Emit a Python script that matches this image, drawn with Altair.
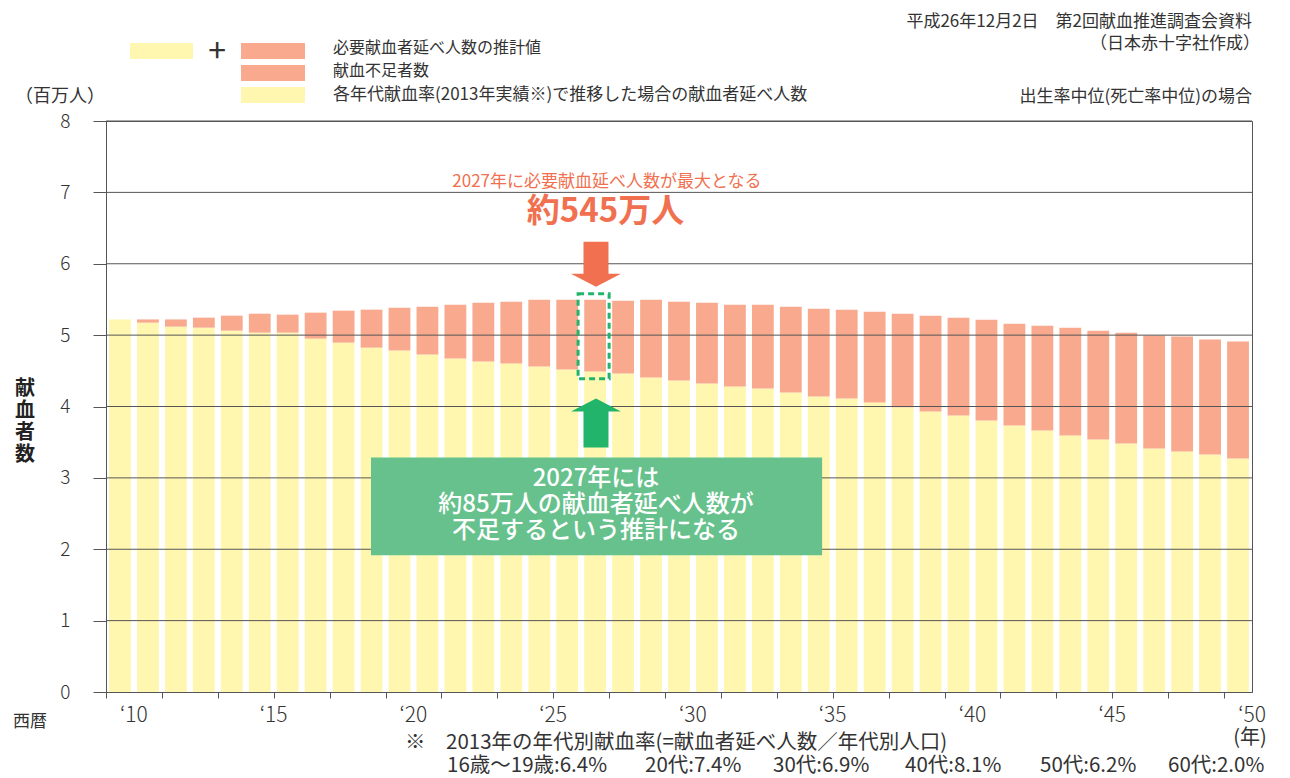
import altair as alt
import pandas as pd

FONT = "Noto Sans CJK JP"

years = list(range(2010, 2051))
total = [5.22, 5.22, 5.22, 5.245, 5.273, 5.30, 5.287, 5.315, 5.343, 5.357,
         5.385, 5.399, 5.427, 5.455, 5.469, 5.497, 5.497, 5.497, 5.483, 5.497,
         5.469, 5.455, 5.427, 5.427, 5.399, 5.371, 5.357, 5.329, 5.30, 5.273,
         5.245, 5.217, 5.161, 5.133, 5.105, 5.063, 5.035, 4.993, 4.979, 4.937,
         4.909]
base = [5.22, 5.175, 5.119, 5.105, 5.063, 5.035, 5.035, 4.951, 4.895, 4.825,
        4.783, 4.727, 4.671, 4.629, 4.601, 4.559, 4.517, 4.49, 4.462, 4.406,
        4.364, 4.322, 4.28, 4.252, 4.196, 4.14, 4.112, 4.056, 3.99, 3.93,
        3.874, 3.804, 3.734, 3.664, 3.594, 3.538, 3.482, 3.413, 3.371, 3.329,
        3.273]

seg_names = ["各年代献血率(2013年実績※)で推移した場合の献血者延べ人数", "献血不足者数"]
legend_labels = ["必要献血者延べ人数の推計値", "献血不足者数",
                 "各年代献血率(2013年実績※)で推移した場合の献血者延べ人数"]
rate_labels = ["16歳～19歳:6.4%", "20代:7.4%", "30代:6.9%", "40代:8.1%", "50代:6.2%", "60代:2.0%"]
x_label_years = [2010, 2015, 2020, 2025, 2030, 2035, 2040, 2045, 2050]
x_label_texts = ["‘10", "‘15", "‘20", "‘25", "‘30", "‘35", "‘40", "‘45", "‘50"]
y_ticks = list(range(0, 9))
x_ticks = list(range(2009, 2051))

YELLOW = "#FFF7B0"
PINK = "#F8A98E"
ORANGE = "#F07050"
GREEN = "#22B46A"
BOX = "#66C18C"
TXT = "#333333"
LINE = "#555555"

rows = []
for yr, t, b in zip(years, total, base):
    rows.append({"year": yr, "seg": seg_names[0], "lo": 0.0, "hi": b})
    rows.append({"year": yr, "seg": seg_names[1], "lo": b, "hi": t})
df = pd.DataFrame(rows)
df["x0"] = df["year"] - 1 + 0.11
df["x1"] = df["year"] - 0.11

xscale = alt.Scale(domain=[2009, 2050], nice=False, zero=False)
yscale = alt.Scale(domain=[0, 8], nice=False, zero=True)

bars = alt.Chart(df).mark_bar(strokeWidth=0).encode(
    x=alt.X("x0:Q", scale=xscale, axis=alt.Axis(
        values=x_ticks, title=None, grid=False, tickSize=6, tickColor=LINE,
        domainColor=LINE, labels=False)),
    x2="x1:Q",
    y=alt.Y("lo:Q", scale=yscale, axis=alt.Axis(
        values=y_ticks, format="d", title=None, grid=False, tickSize=13, tickColor=LINE,
        domainColor=LINE, labelFont=FONT, labelFontSize=19, labelColor=TXT,
        labelFontWeight=300, labelPadding=23)),
    y2="hi:Q",
    color=alt.Color("seg:N", scale=alt.Scale(domain=seg_names, range=[YELLOW, PINK]), legend=None),
)

x_labels = alt.Chart(pd.DataFrame({"yr": x_label_years, "lab": x_label_texts})).mark_text(
    font=FONT, fontSize=21, color=TXT, fontWeight=300, align="center", baseline="middle"
).encode(x=alt.X("yr:Q", scale=xscale), y=alt.value(595), text="lab:N")

grid = alt.Chart(pd.DataFrame({"v": y_ticks[1:]})).mark_rule(color=LINE, strokeWidth=1).encode(
    y=alt.Y("v:Q", scale=yscale)
)

one = pd.DataFrame({"a": [0]})

dashed = alt.Chart(one).mark_rect(fillOpacity=0, stroke=GREEN, strokeWidth=3, strokeDash=[6, 4]).encode(
    x=alt.datum(2025.89), x2=alt.datum(2027.0), y=alt.datum(5.58), y2=alt.datum(4.39)
)

down_path = "M-0.5,-0.9L0.5,-0.9L0.5,0.38L1,0.38L0,0.9L-1,0.38L-0.5,0.38Z"
up_path = "M0,-0.98L1,-0.46L0.5,-0.46L0.5,0.98L-0.5,0.98L-0.5,-0.46L-1,-0.46Z"

down_arrow = alt.Chart(one).mark_point(shape=down_path, size=2500, filled=True, fill=ORANGE,
                                       strokeWidth=0, opacity=1).encode(
    x=alt.datum(2026.53), y=alt.datum(5.993)
)
up_arrow = alt.Chart(one).mark_point(shape=up_path, size=2500, filled=True, fill=GREEN,
                                     strokeWidth=0, opacity=1).encode(
    x=alt.datum(2026.53), y=alt.datum(3.769)
)

box = alt.Chart(one).mark_rect(fill=BOX, strokeWidth=0).encode(
    x=alt.datum(2018.48), x2=alt.datum(2034.62), y=alt.datum(3.287), y2=alt.datum(1.916)
)
box_text = alt.Chart(one).mark_text(
    text=["2027年には", "約85万人の献血者延べ人数が", "不足するという推計になる"],
    font=FONT, fontSize=24, lineHeight=26, color="white", align="center", baseline="middle",
    fontWeight=500
).encode(x=alt.datum(2026.53), y=alt.datum(2.979))

ann1 = alt.Chart(one).mark_text(
    text="2027年に必要献血延べ人数が最大となる", font=FONT, fontSize=17, color=ORANGE,
    align="center", baseline="middle"
).encode(x=alt.datum(2026.92), y=alt.datum(7.147))
ann2 = alt.Chart(one).mark_text(
    text="約545万人", font=FONT, fontSize=33, fontWeight="bold", color=ORANGE,
    align="center", baseline="middle"
).encode(x=alt.datum(2026.87), y=alt.datum(6.727))


def ptext(txt, x, y, size, align="left", weight="normal", color=TXT, line_height=None,
          baseline="middle"):
    kw = dict(text=txt, font=FONT, fontSize=size, align=align, baseline=baseline,
              fontWeight=weight, color=color)
    if line_height is not None:
        kw["lineHeight"] = line_height
    return alt.Chart(one).mark_text(**kw).encode(x=alt.value(x), y=alt.value(y))


def prect(x0, x1, y0, y1, color):
    return alt.Chart(one).mark_rect(fill=color, strokeWidth=0).encode(
        x=alt.value(x0), x2=alt.value(x1), y=alt.value(y0), y2=alt.value(y1))


rate_x = [341, 539, 667, 799, 934, 1062]

outside = [
    ptext("平成26年12月2日　第2回献血推進調査会資料", 1146, -99, 17, align="right"),
    ptext("（日本赤十字社作成）", 1154, -77, 17, align="right"),
    ptext("出生率中位(死亡率中位)の場合", 1146, -24, 17, align="right"),
    prect(24, 87, -78, -62, YELLOW),
    ptext("+", 111, -69, 32, align="center", weight="normal"),
    prect(135, 199, -78, -62, PINK),
    prect(135, 199, -56, -40, PINK),
    prect(135, 199, -34, -18, YELLOW),
    ptext(legend_labels[0], 227, -73, 16),
    ptext(legend_labels[1], 227, -50, 16),
    ptext(legend_labels[2], 227, -26, 17),
    ptext("（百万人）", -46, -24, 18, align="center"),
    ptext(["献", "血", "者", "数"], -81, 268, 20, align="center", weight="bold",
          color="#222222", line_height=22),
    ptext("西暦", -76, 601, 17, align="center"),
    ptext("(年)", 1144, 617, 20, align="center"),
    ptext("※　2013年の年代別献血率(=献血者延べ人数／年代別人口)", 299, 622, 20.5),
] + [
    ptext(lbl, xx, 645, 20.5) for lbl, xx in zip(rate_labels, rate_x)
]

chart = alt.layer(
    bars, grid, x_labels, dashed, down_arrow, up_arrow, box, box_text, ann1, ann2, *outside
).properties(
    width=1146, height=571,
    autosize=alt.AutoSizeParams(type="none"),
    padding={"left": 98, "top": 113, "right": 30, "bottom": 86},
    background="white",
).configure_view(stroke=LINE, strokeWidth=1)

chart.save("out.html", embed_options={"renderer": "svg", "actions": False})
